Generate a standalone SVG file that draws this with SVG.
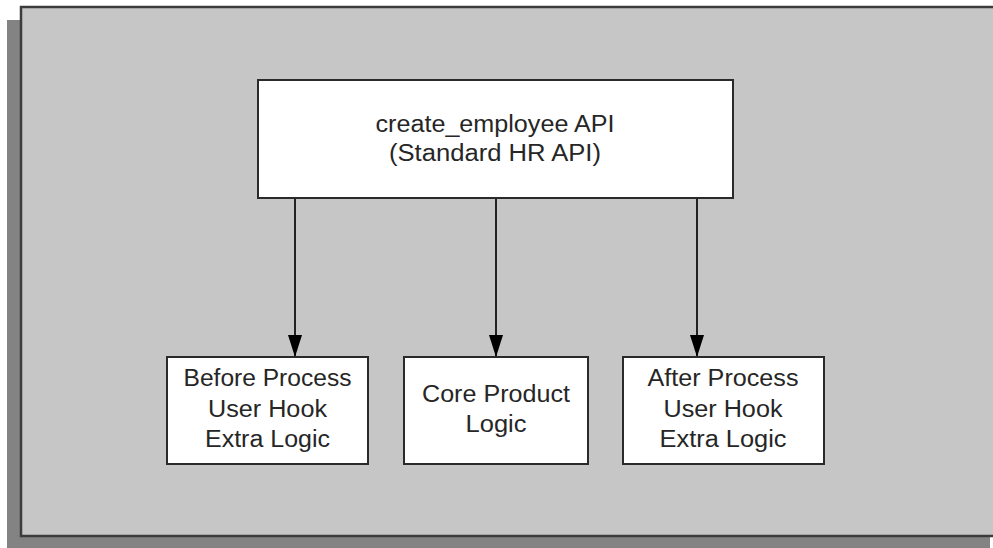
<svg xmlns="http://www.w3.org/2000/svg" width="993" height="548" viewBox="0 0 993 548">
  <defs>
    <style>
      .panel { fill: #c6c6c6; stroke: #3c3c3c; stroke-width: 2.5; }
      .shadow { fill: #838383; }
      .box { fill: #ffffff; stroke: #2a2a2a; stroke-width: 2; }
      .lbl { font-family: "Liberation Sans", Arial, sans-serif; font-size: 23px; fill: #262626; text-anchor: middle; }
      .edge { stroke: #222222; stroke-width: 2; fill: none; }
    </style>
    <marker id="arrow" markerUnits="userSpaceOnUse" markerWidth="22" markerHeight="14" refX="22" refY="7" orient="auto" viewBox="0 0 22 14">
      <path d="M0,0 L22,7 L0,14 Z" fill="#000000"/>
    </marker>
  </defs>
  <rect width="993" height="548" fill="#ffffff"/>
  <g id="background">
    <rect class="shadow" x="7" y="20" width="983" height="528"/>
    <rect class="panel" x="21" y="7" width="985" height="529"/>
  </g>
  <g id="connectors">
    <line class="edge" x1="295" y1="198" x2="295" y2="357" marker-end="url(#arrow)"/>
    <line class="edge" x1="496" y1="198" x2="496" y2="357" marker-end="url(#arrow)"/>
    <line class="edge" x1="697" y1="198" x2="697" y2="357" marker-end="url(#arrow)"/>
  </g>
  <g id="node-api">
    <rect class="box" x="258" y="80" width="475" height="118"/>
    <text class="lbl" x="495" y="132" textLength="239" lengthAdjust="spacingAndGlyphs">create_employee API</text>
    <text class="lbl" x="495" y="161" textLength="212" lengthAdjust="spacingAndGlyphs">(Standard HR API)</text>
  </g>
  <g id="node-before">
    <rect class="box" x="167" y="357" width="201" height="107"/>
    <text class="lbl" x="267.5" y="386" textLength="168" lengthAdjust="spacingAndGlyphs">Before Process</text>
    <text class="lbl" x="267.5" y="417" textLength="119" lengthAdjust="spacingAndGlyphs">User Hook</text>
    <text class="lbl" x="267.5" y="447" textLength="125" lengthAdjust="spacingAndGlyphs">Extra Logic</text>
  </g>
  <g id="node-core">
    <rect class="box" x="404" y="357" width="184" height="107"/>
    <text class="lbl" x="496" y="402" textLength="148" lengthAdjust="spacingAndGlyphs">Core Product</text>
    <text class="lbl" x="496" y="432" textLength="61" lengthAdjust="spacingAndGlyphs">Logic</text>
  </g>
  <g id="node-after">
    <rect class="box" x="623" y="357" width="201" height="107"/>
    <text class="lbl" x="723" y="386" textLength="151" lengthAdjust="spacingAndGlyphs">After Process</text>
    <text class="lbl" x="723" y="417" textLength="119" lengthAdjust="spacingAndGlyphs">User Hook</text>
    <text class="lbl" x="723" y="447" textLength="127" lengthAdjust="spacingAndGlyphs">Extra Logic</text>
  </g>
</svg>
